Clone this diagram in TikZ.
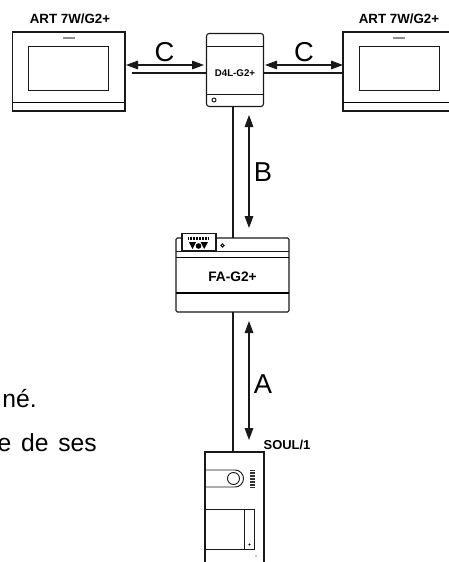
\documentclass[tikz,border=0pt]{standalone}
\usepackage{fontspec}
\setmainfont{Liberation Sans}
\usetikzlibrary{arrows.meta}
\tikzset{
  x=0.75pt,y=-0.75pt,
  box/.style={draw=black!90,line width=0.85pt,anchor=north west,inner sep=0pt,outer sep=0pt},
  wire/.style={draw=black!90,line width=0.85pt},
  thinl/.style={draw=black!90,line width=0.7pt},
  heavy/.style={draw=black,line width=1.1pt},
  dbl/.style={draw=black!90,line width=0.8pt,{Triangle[length=9pt,width=6.5pt]}-{Triangle[length=9pt,width=6.5pt]}},
  letter/.style={font=\fontsize{20.5}{20}\selectfont,inner sep=0pt},
  tag/.style={font=\bfseries\fontsize{10}{11}\selectfont,inner sep=0pt},
  body/.style={font=\fontsize{18.5}{20}\selectfont,inner sep=0pt,anchor=base east},
}
\begin{document}
\begin{tikzpicture}
\useasboundingbox (0,0) rectangle (449,562);
\clip (0,0) rectangle (449,562);
% monitors
\node[box,minimum width=112.5*0.75pt,minimum height=79*0.75pt] (monL) at (12.5,32) {};
\draw[heavy] (12.5,102.5) -- (125,102.5);
\draw[thinl] (28.5,46) rectangle (108.5,90);
\draw[draw=black!45,line width=0.9pt] (63,38) -- (75,38);
\node[tag] (monLt) at (70,18.5) {ART 7W/G2+};
\node[box,minimum width=113*0.75pt,minimum height=79*0.75pt] (monR) at (343,32) {};
\draw[heavy] (343,102.5) -- (456,102.5);
\draw[thinl] (359.5,46) rectangle (439.5,90);
\draw[draw=black!45,line width=0.9pt] (393,38) -- (405,38);
\node[tag] (monRt) at (399,18.5) {ART 7W/G2+};
% D4L
\node[box,rounded corners=2pt,minimum width=57*0.75pt,minimum height=73*0.75pt] (dist) at (206.5,33.5) {};
\draw[thinl] (206.5,46) -- (263.5,46) (206.5,94) -- (263.5,94);
\draw[thinl] (214,100) circle (2);
\node[tag,font=\bfseries\fontsize{7.3}{8}\selectfont] (distt) at (235,73) {D4L-G2+};
% FA
\node[box,rounded corners=1pt,minimum width=113*0.75pt,minimum height=74*0.75pt] (fa) at (176,238) {};
\draw[thinl] (176,251) -- (289,251);
\draw[heavy] (176,257.5) -- (289,257.5) (176,293) -- (289,293);
\node[tag,font=\bfseries\fontsize{10.3}{11}\selectfont] (fat) at (232.5,276.5) {FA-G2+};
\node[box,fill=white,minimum width=34*0.75pt,minimum height=17*0.75pt] (tab) at (182,233.5) {};
\foreach \xx in {188.5,190,...,208}{\draw[draw=black,line width=0.5pt] (\xx,237) -- (\xx,240);}
\fill[black] (189,242) -- (196,242) -- (192.5,249) -- cycle;
\fill[black] (200.5,242) -- (208,242) -- (204.2,249) -- cycle;
\fill[black] (198.5,246) circle (2.8);
\draw[thinl] (222.5,245.5) circle (1.6);
% SOUL
\draw[wire] (205,562) -- (205,452) -- (264,452) -- (264,562);
\node[inner sep=0pt,outer sep=0pt,minimum width=59*0.75pt,minimum height=0.5pt,anchor=north west] (panel) at (205,452) {};
\draw[thinl] (205,470) -- (235,470) arc[start angle=-90,end angle=90,radius=8.5] -- (205,487);
\draw[thinl] (233.5,478.5) circle (6);
\foreach \yy in {470.5,472,...,487}{\draw[draw=black!80,line width=0.45pt] (250,\yy) -- (254.5,\yy);}
\draw[thinl] (205,509) rectangle (254.5,549) (244.5,509) -- (244.5,549);
\fill[black] (249.5,544.5) circle (1.1);
\fill[black] (256,556) circle (0.7);
\node[tag,font=\bfseries\fontsize{9.7}{10}\selectfont] (soult) at (287,444.5) {SOUL/1};
% wires
\coordinate (cL) at (132,73);
\draw[wire] (cL) -- (cL -| dist.west);
\coordinate (cR) at (263.5,73);
\draw[wire] (cR) -- (cR -| monR.west);
\draw[wire] (dist.south -| 233,0) -- (fa.north -| 233,0);
\draw[wire] (fa.south -| 233,0) -- (panel.north -| 233,0);
% arrows
\coordinate (c1a) at (126,65); \coordinate (c1b) at (204,65);
\coordinate (c2a) at (265,65); \coordinate (c2b) at (343,65);
\coordinate (b1) at (249,115); \coordinate (b2) at (249,228);
\coordinate (a1) at (249,321); \coordinate (a2) at (249,440);
\draw[dbl] (c1a) -- (c1b);
\draw[dbl] (c2a) -- (c2b);
\draw[dbl] (b1) -- (b2);
\draw[dbl] (a1) -- (a2);
\node[letter] (lc1) at (164.5,52) {C};
\node[letter] (lc2) at (304,52) {C};
\node[letter] (lb) at (263,172) {B};
\node[letter] (la) at (263,384) {A};
% text
\node[body] (t1) at (37,407) {né.};
\node[body] (t2) at (97,451) {e\hspace{0.12em} de\hspace{0.12em} ses};
\end{tikzpicture}
\end{document}
